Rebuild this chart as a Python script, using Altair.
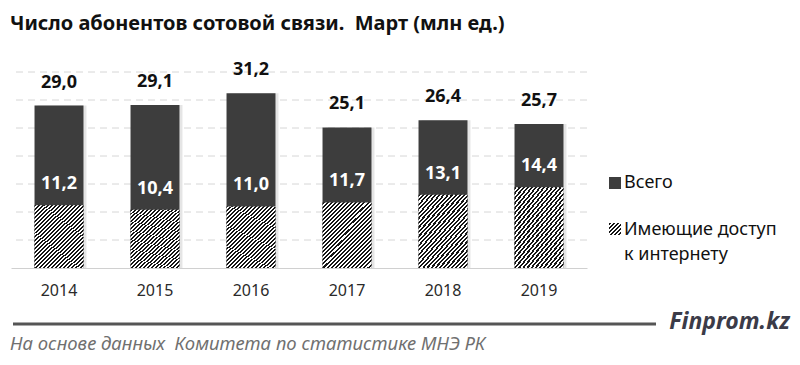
import altair as alt
import pandas as pd

# ---- data ----
years = ["2014", "2015", "2016", "2017", "2018", "2019"]
total = [29.0, 29.1, 31.2, 25.1, 26.4, 25.7]
internet = [11.2, 10.4, 11.0, 11.7, 13.1, 14.4]
grid_values = [5, 10, 15, 20, 25, 30, 35]

title_text = "Число абонентов сотовой связи.\u00a0 Март (млн ед.)"
legend_labels = ["Всего", "Имеющие доступ", "к интернету"]
source_text = "На основе данных\u00a0 Комитета по статистике МНЭ РК"
brand_text = "Finprom.kz"

df = pd.DataFrame({"year": years, "total": total, "internet": internet})
grid_df = pd.DataFrame({"v": grid_values})
one = pd.DataFrame({"k": [0]})  # single row for decorations

FONT = "Noto Sans"
DARK = "#3d3d3d"


def stripes(n):
    out = []
    for i in range(n):
        a = i / n
        b = (i + 0.5) / n
        c = (i + 1) / n
        out += [
            alt.GradientStop(offset=a, color="#151515"),
            alt.GradientStop(offset=b, color="#151515"),
            alt.GradientStop(offset=b, color="#ffffff"),
            alt.GradientStop(offset=c, color="#ffffff"),
        ]
    return out


hatch = alt.Gradient(gradient="linear", stops=stripes(28), x1=0, y1=0, x2=0.83, y2=1.12)
leg_hatch = alt.Gradient(gradient="linear", stops=stripes(6), x1=0, y1=0, x2=1, y2=1)

x_enc = alt.X(
    "year:N",
    sort=years,
    scale=alt.Scale(paddingInner=0.49, paddingOuter=0.245),
    axis=alt.Axis(
        title=None,
        labelAngle=0,
        labelFont=FONT,
        labelFontSize=16,
        labelColor="#2a2a2a",
        labelPadding=14,
        ticks=False,
        domainColor="#d0d0d0",
        domainWidth=1,
        grid=False,
    ),
)
y_scale = alt.Scale(domain=[0, 35], nice=False)
xs = alt.X("year:N", sort=years)

grid = alt.Chart(grid_df).mark_rule(color="#d6d6d6", strokeDash=[7, 5], strokeWidth=1).encode(
    y=alt.Y("v:Q", scale=y_scale, axis=None)
)

base = alt.Chart(df)

shadow = base.mark_bar(color="#000000", opacity=0.10, xOffset=3).encode(
    x=x_enc, y=alt.Y("total:Q", scale=y_scale, axis=None)
)
bars_total = base.mark_bar(color=DARK).encode(x=xs, y=alt.Y("total:Q", scale=y_scale, axis=None))
bars_net = base.mark_bar(fill=hatch).encode(x=xs, y=alt.Y("internet:Q", scale=y_scale, axis=None))
lab_total = base.mark_text(
    font=FONT, fontSize=18, fontWeight="bold", color="#111111",
    baseline="alphabetic", dy=-18
).transform_calculate(
    t="replace(format(datum.total, '.1f'), '.', ',')"
).encode(x=xs, y=alt.Y("total:Q", scale=y_scale, axis=None), text="t:N")
lab_net = base.mark_text(
    font=FONT, fontSize=18, fontWeight="bold", color="#ffffff",
    baseline="alphabetic", dy=-16
).transform_calculate(
    t="replace(format(datum.internet, '.1f'), '.', ',')"
).encode(x=xs, y=alt.Y("internet:Q", scale=y_scale, axis=None), text="t:N")

deco = alt.Chart(one)

title = deco.mark_text(font=FONT, fontSize=20, fontWeight="bold", color="#111111",
                       align="left", baseline="alphabetic").encode(
    x=alt.value(-1), y=alt.value(-42), text=alt.value(title_text)
)

# legend (decoration)
leg_sq1 = deco.mark_rect(color=DARK).encode(
    x=alt.value(598), x2=alt.value(610), y=alt.value(105), y2=alt.value(117)
)
leg_sq2 = deco.mark_rect(fill=leg_hatch).encode(
    x=alt.value(598), x2=alt.value(610), y=alt.value(151), y2=alt.value(163)
)
leg_t1 = deco.mark_text(font=FONT, fontSize=18, color="#111111", align="left", baseline="middle").encode(
    x=alt.value(613), y=alt.value(111), text=alt.value(legend_labels[0])
)
leg_t2 = deco.mark_text(font=FONT, fontSize=18, color="#111111", align="left",
                        baseline="alphabetic", lineHeight=25,
                        text=[legend_labels[1], legend_labels[2]]).encode(
    x=alt.value(613), y=alt.value(163)
)

# footer
foot_line = deco.mark_rule(color="#555555", strokeWidth=3).encode(
    x=alt.value(2), x2=alt.value(645), y=alt.value(252)
)
brand = deco.mark_text(font=FONT, fontSize=23, fontWeight="bold", fontStyle="italic",
                       color="#3b3b48", align="right", baseline="middle").encode(
    x=alt.value(779), y=alt.value(250), text=alt.value(brand_text)
)
source = deco.mark_text(font=FONT, fontSize=18.5, fontStyle="italic",
                        color="#707070", align="left", baseline="middle").encode(
    x=alt.value(-1), y=alt.value(272), text=alt.value(source_text)
)

chart = alt.layer(
    grid, shadow, bars_total, bars_net, lab_total, lab_net,
    title, leg_sq1, leg_sq2, leg_t1, leg_t2,
    foot_line, brand, source,
).properties(
    width=576,
    height=196,
    autosize=alt.AutoSizeParams(type="none"),
    padding={"left": 3, "top": 64, "right": 205, "bottom": 88},
).configure_view(stroke=None)

chart.save("out.html", embed_options={"renderer": "svg", "actions": False})
